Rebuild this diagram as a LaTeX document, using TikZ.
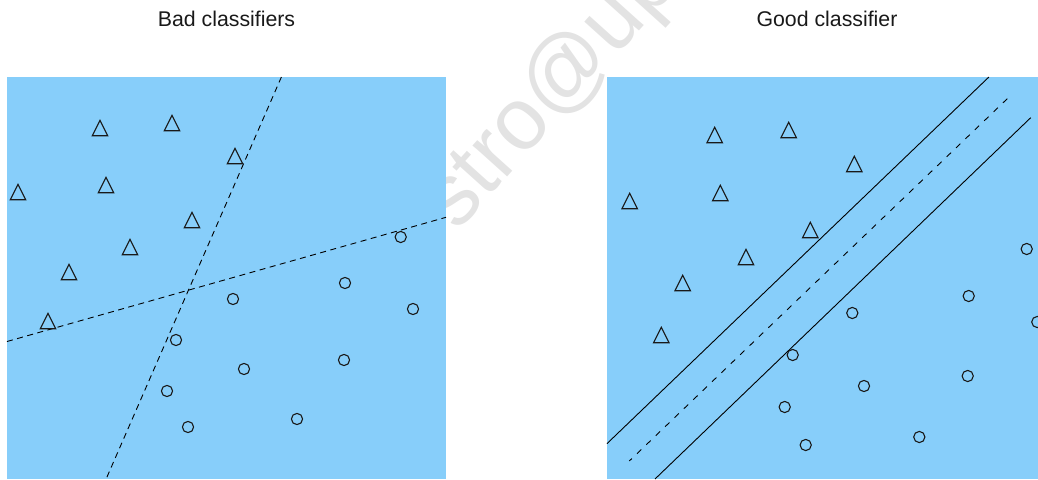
\documentclass[tikz,border=0pt]{standalone}
\usepackage{fontspec}
\setmainfont{Liberation Sans}
\definecolor{panelblue}{HTML}{87CEFA}
\definecolor{wmgray}{HTML}{E3E3E3}
\begin{document}
\begin{tikzpicture}[x=1pt,y=-1pt,
  panel/.style={fill=panelblue, draw=none},
  sepline/.style={line width=0.9pt, black},
  dashL/.style={sepline, dash pattern=on 6pt off 4.5pt},
  dashR/.style={sepline, dash pattern=on 6pt off 7pt},
  mk/.style={line width=1.1pt, black!90},
  title/.style={font=\fontsize{21.3}{25}\selectfont, anchor=base, inner sep=0pt, text=black!90}]
\useasboundingbox (0,0) rectangle (1038,479);
% watermark
\node[rotate=48, anchor=base west, inner sep=0pt, text=wmgray, font=\fontsize{88}{92}\selectfont] (wmk) at (457.3,232.7) {stro@up};
% panels
\fill[panel] (7,77) rectangle (446,479);
\fill[panel] (607,77) rectangle (1038,479);
% titles
\node[title] (tl) at (226.5,26) {Bad classifiers};
\node[title] (tr) at (827,26) {Good classifier};
% left separators
\coordinate (la1) at (281.4,77);
\coordinate (la2) at (106.1,479);
\coordinate (lb1) at (7,341.5);
\coordinate (lb2) at (446,217.3);
\draw[dashL] (la1) -- (la2);
\draw[dashL] (lb1) -- (lb2);
% left triangles
\foreach \x/\y in {100/128, 172/123, 235/156, 18/192, 106/185, 192/220, 130/247, 69/272, 48/321}
  \draw[mk] (\x,\y) ++(-7.7,7.7) -- ++(7.7,-15.4) -- ++(7.7,15.4) -- cycle;
% left circles
\foreach \x/\y in {400.7/237, 345/283, 233/299, 413/309, 176/340, 344/360, 244/369, 167/391, 297/419, 188/427}
  \draw[mk] (\x,\y) circle[radius=5.6];
% right separators
\coordinate (ru1) at (607,443.6);
\coordinate (ru2) at (988.9,77);
\coordinate (rm1) at (1007.3,98.7);
\coordinate (rm2) at (629.3,461);
\coordinate (rl1) at (655,479);
\coordinate (rl2) at (1030.7,117.7);
\draw[sepline] (ru1) -- (ru2);
\draw[dashR] (rm1) -- (rm2);
\draw[sepline] (rl1) -- (rl2);
% right triangles
\foreach \x/\y in {714.7/135, 788.7/130, 854.3/164, 629.7/201, 720.3/193, 810.3/230, 746/257, 682.7/283, 661.3/335}
  \draw[mk] (\x,\y) ++(-7.7,7.7) -- ++(7.7,-15.4) -- ++(7.7,15.4) -- cycle;
% right circles
\foreach \x/\y in {1026.7/249, 968.7/296, 852.3/313, 1037.3/322, 792.7/355, 967.7/376, 864/386, 784.7/407, 919.3/437, 805.7/445}
  \draw[mk] (\x,\y) circle[radius=5.6];
\end{tikzpicture}
\end{document}
